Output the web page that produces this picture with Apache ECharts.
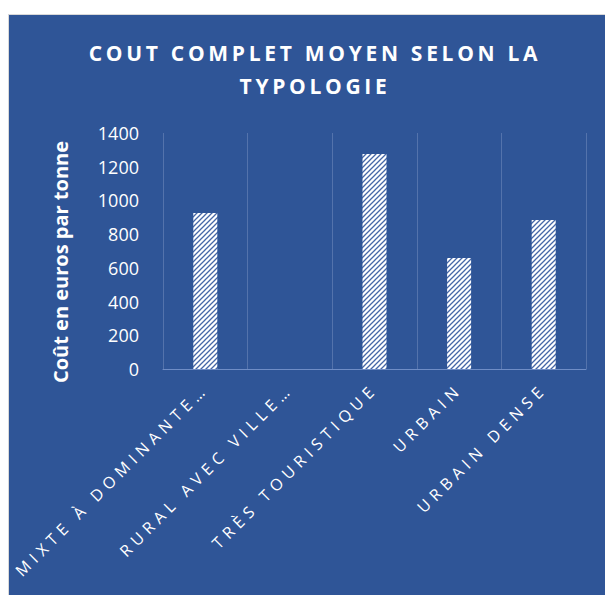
<!DOCTYPE html>
<html>
<head>
<meta charset="utf-8">
<script src="https://cdn.jsdelivr.net/npm/echarts@6/dist/echarts.min.js"></script>
<style>
  html, body { margin: 0; padding: 0; background: #fff; }
  #main { width: 605px; height: 595px; }
  /* Excel-like letter spacing on category labels and title */
  #main text[style*="16px"] { letter-spacing: 5.2px; }
  #main text[style*="21px"] { letter-spacing: 3.7px; }
</style>
</head>
<body>
<div id="main"></div>
<script>
const titleText = 'COUT COMPLET MOYEN SELON LA\nTYPOLOGIE'
const yAxisName = 'Coût en euros par tonne'
const categories = ['MIXTE À DOMINANTE…', 'RURAL AVEC VILLE…', 'TRÈS TOURISTIQUE', 'URBAIN', 'URBAIN DENSE']
const values = [925, null, 1275, 658, 884]
const yMin = 0
const yMax = 1400
const yStep = 200

const blue = '#2F5597'

// white tile with blue "/" stripes, like the Excel pattern fill
function hatch() {
  const s = 5
  const c = document.createElement('canvas')
  c.width = s
  c.height = s
  const ctx = c.getContext('2d')
  ctx.fillStyle = '#fff'
  ctx.fillRect(0, 0, s, s)
  ctx.strokeStyle = '#4667A7'
  ctx.lineWidth = 1.3
  ctx.beginPath()
  ctx.moveTo(-1, s + 1); ctx.lineTo(s + 1, -1)
  ctx.moveTo(-1, 1); ctx.lineTo(1, -1)
  ctx.moveTo(s - 1, s + 1); ctx.lineTo(s + 1, s - 1)
  ctx.stroke()
  return c
}

const myChart = echarts.init(document.getElementById('main'), null, { renderer: 'svg' })

myChart.setOption({
  backgroundColor: '#fff',
  animation: false,
  graphic: [{
    type: 'rect',
    z: -10,
    shape: { x: 8.5, y: 14.5, width: 600, height: 585 },
    style: { fill: blue, stroke: '#D9D9D9', lineWidth: 1 }
  }],
  title: {
    text: titleText,
    left: 310,
    top: 31,
    textAlign: 'center',
    textStyle: {
      color: '#fff',
      fontFamily: 'Open Sans',
      fontWeight: 'bold',
      fontSize: 21,
      lineHeight: 33
    }
  },
  grid: { left: 163, right: 19, top: 133, bottom: 226 },
  xAxis: {
    type: 'category',
    data: categories,
    axisLine: { lineStyle: { color: '#6F8DC6', width: 1 } },
    axisTick: { show: false },
    splitLine: { show: true, lineStyle: { color: '#5473AC', width: 1 } },
    axisLabel: {
      rotate: 45,
      interval: 0,
      margin: 17,
      color: '#fff',
      fontFamily: 'Open Sans',
      fontSize: 16
    }
  },
  yAxis: {
    type: 'value',
    min: yMin,
    max: yMax,
    interval: yStep,
    name: yAxisName,
    nameLocation: 'middle',
    nameGap: 93,
    nameTextStyle: {
      color: '#fff',
      fontFamily: 'Open Sans',
      fontWeight: 'bold',
      fontSize: 20,
      padding: [0, 22, 0, 0]
    },
    axisLine: { show: false },
    axisTick: { show: false },
    splitLine: { show: false },
    axisLabel: {
      margin: 24,
      color: '#fff',
      fontFamily: 'Open Sans',
      fontSize: 18,
      formatter: v => String(v)
    }
  },
  series: [{
    type: 'bar',
    data: values,
    barWidth: 24,
    itemStyle: {
      color: { image: hatch(), repeat: 'repeat' }
    }
  }]
})
</script>
</body>
</html>
